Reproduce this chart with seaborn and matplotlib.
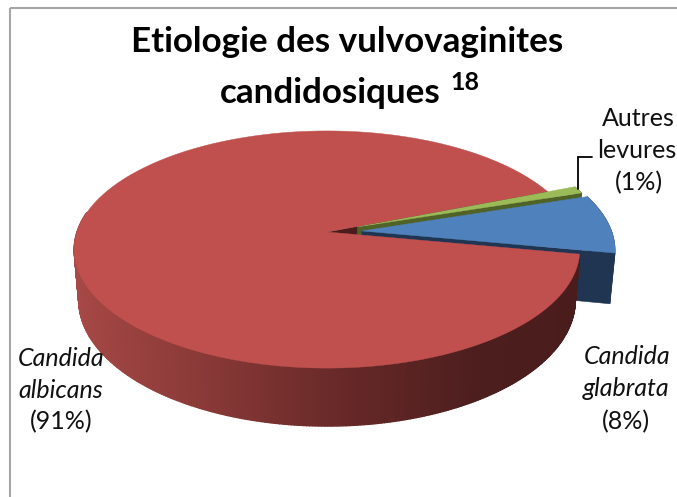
import numpy as np
import matplotlib
matplotlib.use("Agg")
import matplotlib.pyplot as plt
from matplotlib.colors import to_rgb
from matplotlib.patches import Polygon
import seaborn as sns

species = ["Candida albicans", "Candida glabrata", "Autres levures"]
shares = [91, 8, 1]
pulled_out = [0, 0.14, 0.13]
top_colors = ["#c0504d", "#4f81bd", "#9bbb59"]
side_colors = ["#4a1c1c", "#1f3552", "#4f6228"]
title_lines = ["Etiologie des vulvovaginites", "candidosiques"]
title_note = "18"

sns.set_theme(style="white")
plt.rcParams["font.family"] = ["Lato", "DejaVu Sans"]

fig = plt.figure(figsize=(6.77, 4.97), dpi=100)
ax = fig.add_axes([0, 0, 1, 1])
wedges, _ = ax.pie(shares, explode=pulled_out, startangle=21.7, colors=top_colors,
                   radius=1.0, frame=True)
geom = [(w.center, w.theta1, w.theta2) for w in wedges]
for w in wedges:
    w.remove()
ax.set_aspect("auto")
ax.set_xlim(0, 677)
ax.set_ylim(497, 0)
ax.axis("off")

CX, CY, A, B, K, DEPTH, SHRINK = 327, 232, 250, 116, 0.1477, 49.4, 0.982


def project(x, y, down=0.0):
    w = 1 + K * y
    scale = SHRINK if down else 1.0
    return np.column_stack([CX + scale * A * x / w, CY - B * y / w + down / w])


def arc(center, t1, t2, n=160):
    t = np.radians(np.linspace(t1, t2, n))
    return center[0] + np.cos(t), center[1] + np.sin(t)


def wall(xs, ys, color, z, lw=0.4):
    top = project(xs, ys)
    bottom = project(xs, ys, DEPTH)
    ax.add_patch(Polygon(np.vstack([top, bottom[::-1]]), closed=True, fc=color, ec=color, lw=lw, zorder=z))


def face(center, t1, t2, color, z):
    xs, ys = arc(center, t1, t2)
    xs = np.r_[center[0], xs]
    ys = np.r_[center[1], ys]
    ax.add_patch(Polygon(project(xs, ys), closed=True, fc=color, ec=color, lw=0.3, zorder=z))


def cut(center, theta, color, z):
    t = np.radians(theta)
    xs = center[0] + np.array([0, 1.0]) * np.cos(t)
    ys = center[1] + np.array([0, 1.0]) * np.sin(t)
    wall(xs, ys, color, z)


(rc, r1, r2), (bc, b1, b2), (gc, g1, g2) = geom

# cut face of the large slice, seen through the gap
cut(rc, r1, side_colors[0], 1)

# small slice
xs, ys = arc(gc, g1, g2)
wall(xs, ys, side_colors[2], 2)
cut(gc, g1, side_colors[2], 2)
face(gc, g1, g2, top_colors[2], 3)

# pulled-out slice
xs, ys = arc(bc, b1, b2)
wall(xs, ys, side_colors[1], 4)
cut(bc, b1, side_colors[1], 4)
face(bc, b1, b2, top_colors[1], 5)

# shaded front rim of the large slice
anchor_x = [74, 100, 200, 340, 480, 585]
anchor_c = np.array([to_rgb(c) for c in ["#a84a47", "#a04542", "#8a3a38", "#682928", "#4d1e1e", "#4a1c1c"]])
thetas = np.linspace(170, r2, 300)
for a, b in zip(thetas[:-1], thetas[1:]):
    xs, ys = arc(rc, a, b, 3)
    mid_x = project(xs, ys)[1, 0]
    col = [np.interp(mid_x, anchor_x, anchor_c[:, i]) for i in range(3)]
    wall(xs, ys, col, 6, lw=1.0)
face(rc, r1, r2, top_colors[0], 7)

# frame
frame_col = "#a6a6a6"
ax.plot([9.5, 9.5], [497, 7.5], color=frame_col, lw=1.5, zorder=0, solid_capstyle="butt")
ax.plot([9.5, 677], [7.5, 7.5], color=frame_col, lw=1.5, zorder=0, solid_capstyle="butt")

# title
ax.text(347.5, 42, title_lines[0], ha="center", va="center", fontsize=25.2, fontweight="bold", color="black", zorder=9)
ax.text(330, 93, title_lines[1], ha="center", va="center", fontsize=25.2, fontweight="bold", color="black", zorder=9)
ax.text(465, 83, title_note, ha="center", va="center", fontsize=18, fontweight="bold", color="black", zorder=9)

# labels
fs = 18
ink = "#111111"
ax.text(638, 119, "Autres", ha="center", va="center", fontsize=fs, color=ink, zorder=9)
ax.text(637, 150, "levures", ha="center", va="center", fontsize=fs, color=ink, zorder=9)
ax.text(639, 183, f"({shares[2]}%)", ha="center", va="center", fontsize=fs, color=ink, zorder=9)
ax.text(627, 357, "Candida", ha="center", va="center", fontsize=fs, style="italic", color=ink, zorder=9)
ax.text(626, 389, "glabrata", ha="center", va="center", fontsize=fs, style="italic", color=ink, zorder=9)
ax.text(626, 422, f"({shares[1]}%)", ha="center", va="center", fontsize=fs, color=ink, zorder=9)
ax.text(61, 358, "Candida", ha="center", va="center", fontsize=fs, style="italic", color=ink, zorder=9)
ax.text(61, 390, "albicans", ha="center", va="center", fontsize=fs, style="italic", color=ink, zorder=9)
ax.text(61, 422, f"({shares[0]}%)", ha="center", va="center", fontsize=fs, color=ink, zorder=9)

# leader line
ax.plot([592, 578, 578], [157, 157, 189], color="black", lw=1.3, zorder=8, solid_joinstyle="miter")

fig.savefig("out.png", dpi=100, facecolor="white")
